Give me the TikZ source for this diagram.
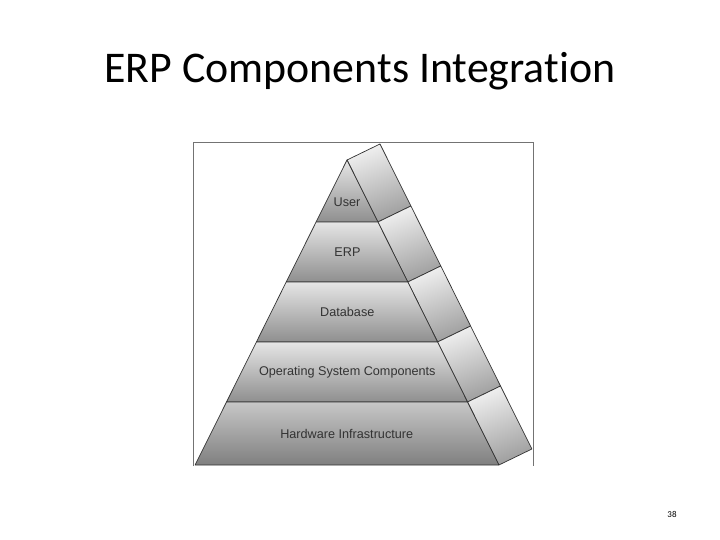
\documentclass[tikz,border=0pt]{standalone}
\usepackage{fontspec}
\setmainfont{Carlito}[Ligatures=NoCommon]
\newfontfamily\arialfont{Liberation Sans}
\usetikzlibrary{calc}
\begin{document}
\begin{tikzpicture}[x=1bp,y=-1bp,
  band/.style={draw=black!80, line width=0.7bp, line join=round, top color=black!10, bottom color=black!44},
  hwband/.style={draw=black!80, line width=0.7bp, line join=round, top color=black!22, bottom color=black!50},
  sideface/.style={draw=black!80, line width=0.7bp, line join=round, top color=black!6, bottom color=black!38, shading angle=20},
  lbl/.style={font=\arialfont\fontsize{12.7}{14}\selectfont, text=black!80, inner sep=0pt},
  frameline/.style={draw=black!55, line width=0.8bp}]
\useasboundingbox (0,0) rectangle (720,540);
\fill[white] (0,0) rectangle (720,540);
% title
\node[font=\fontsize{44}{50}\selectfont, anchor=base, inner sep=0pt] (title) at (360,83) {ERP Components Integration};
% frame
\draw[frameline] (193.5,466) -- (193.5,142) -- (533,142) -- (533,466);
% front coordinates
\coordinate (A) at (347,160);
\coordinate (L1) at (316.1,222); \coordinate (R1) at (377.9,222);
\coordinate (L2) at (286.2,282); \coordinate (R2) at (407.8,282);
\coordinate (L3) at (256.4,342); \coordinate (R3) at (437.6,342);
\coordinate (L4) at (226.5,402); \coordinate (R4) at (467.5,402);
\coordinate (L5) at (195.1,465); \coordinate (R5) at (498.9,465);
\coordinate (o) at (33,-16);
% side faces
\shade[sideface] (A) -- ($(A)+(o)$) -- ($(R1)+(o)$) -- (R1) -- cycle;
\shade[sideface] (R1) -- ($(R1)+(o)$) -- ($(R2)+(o)$) -- (R2) -- cycle;
\shade[sideface] (R2) -- ($(R2)+(o)$) -- ($(R3)+(o)$) -- (R3) -- cycle;
\shade[sideface] (R3) -- ($(R3)+(o)$) -- ($(R4)+(o)$) -- (R4) -- cycle;
\shade[sideface] (R4) -- ($(R4)+(o)$) -- ($(R5)+(o)$) -- (R5) -- cycle;
% front bands
\shade[band] (A) -- (R1) -- (L1) -- cycle;
\shade[band] (L1) -- (R1) -- (R2) -- (L2) -- cycle;
\shade[band] (L2) -- (R2) -- (R3) -- (L3) -- cycle;
\shade[band] (L3) -- (R3) -- (R4) -- (L4) -- cycle;
\shade[hwband] (L4) -- (R4) -- (R5) -- (L5) -- cycle;
% labels
\node[lbl] (user) at (347,202.5) {User};
\node[lbl] (erp) at (347.5,252.5) {ERP};
\node[lbl] (db) at (347.3,312) {Database};
\node[lbl] (os) at (347.3,372.5) {Operating System Components};
\node[lbl] (hw) at (346.7,434) {Hardware Infrastructure};
% page number
\node[font=\fontsize{9}{10}\selectfont, inner sep=0pt] (page) at (672,514) {38};
\end{tikzpicture}
\end{document}
